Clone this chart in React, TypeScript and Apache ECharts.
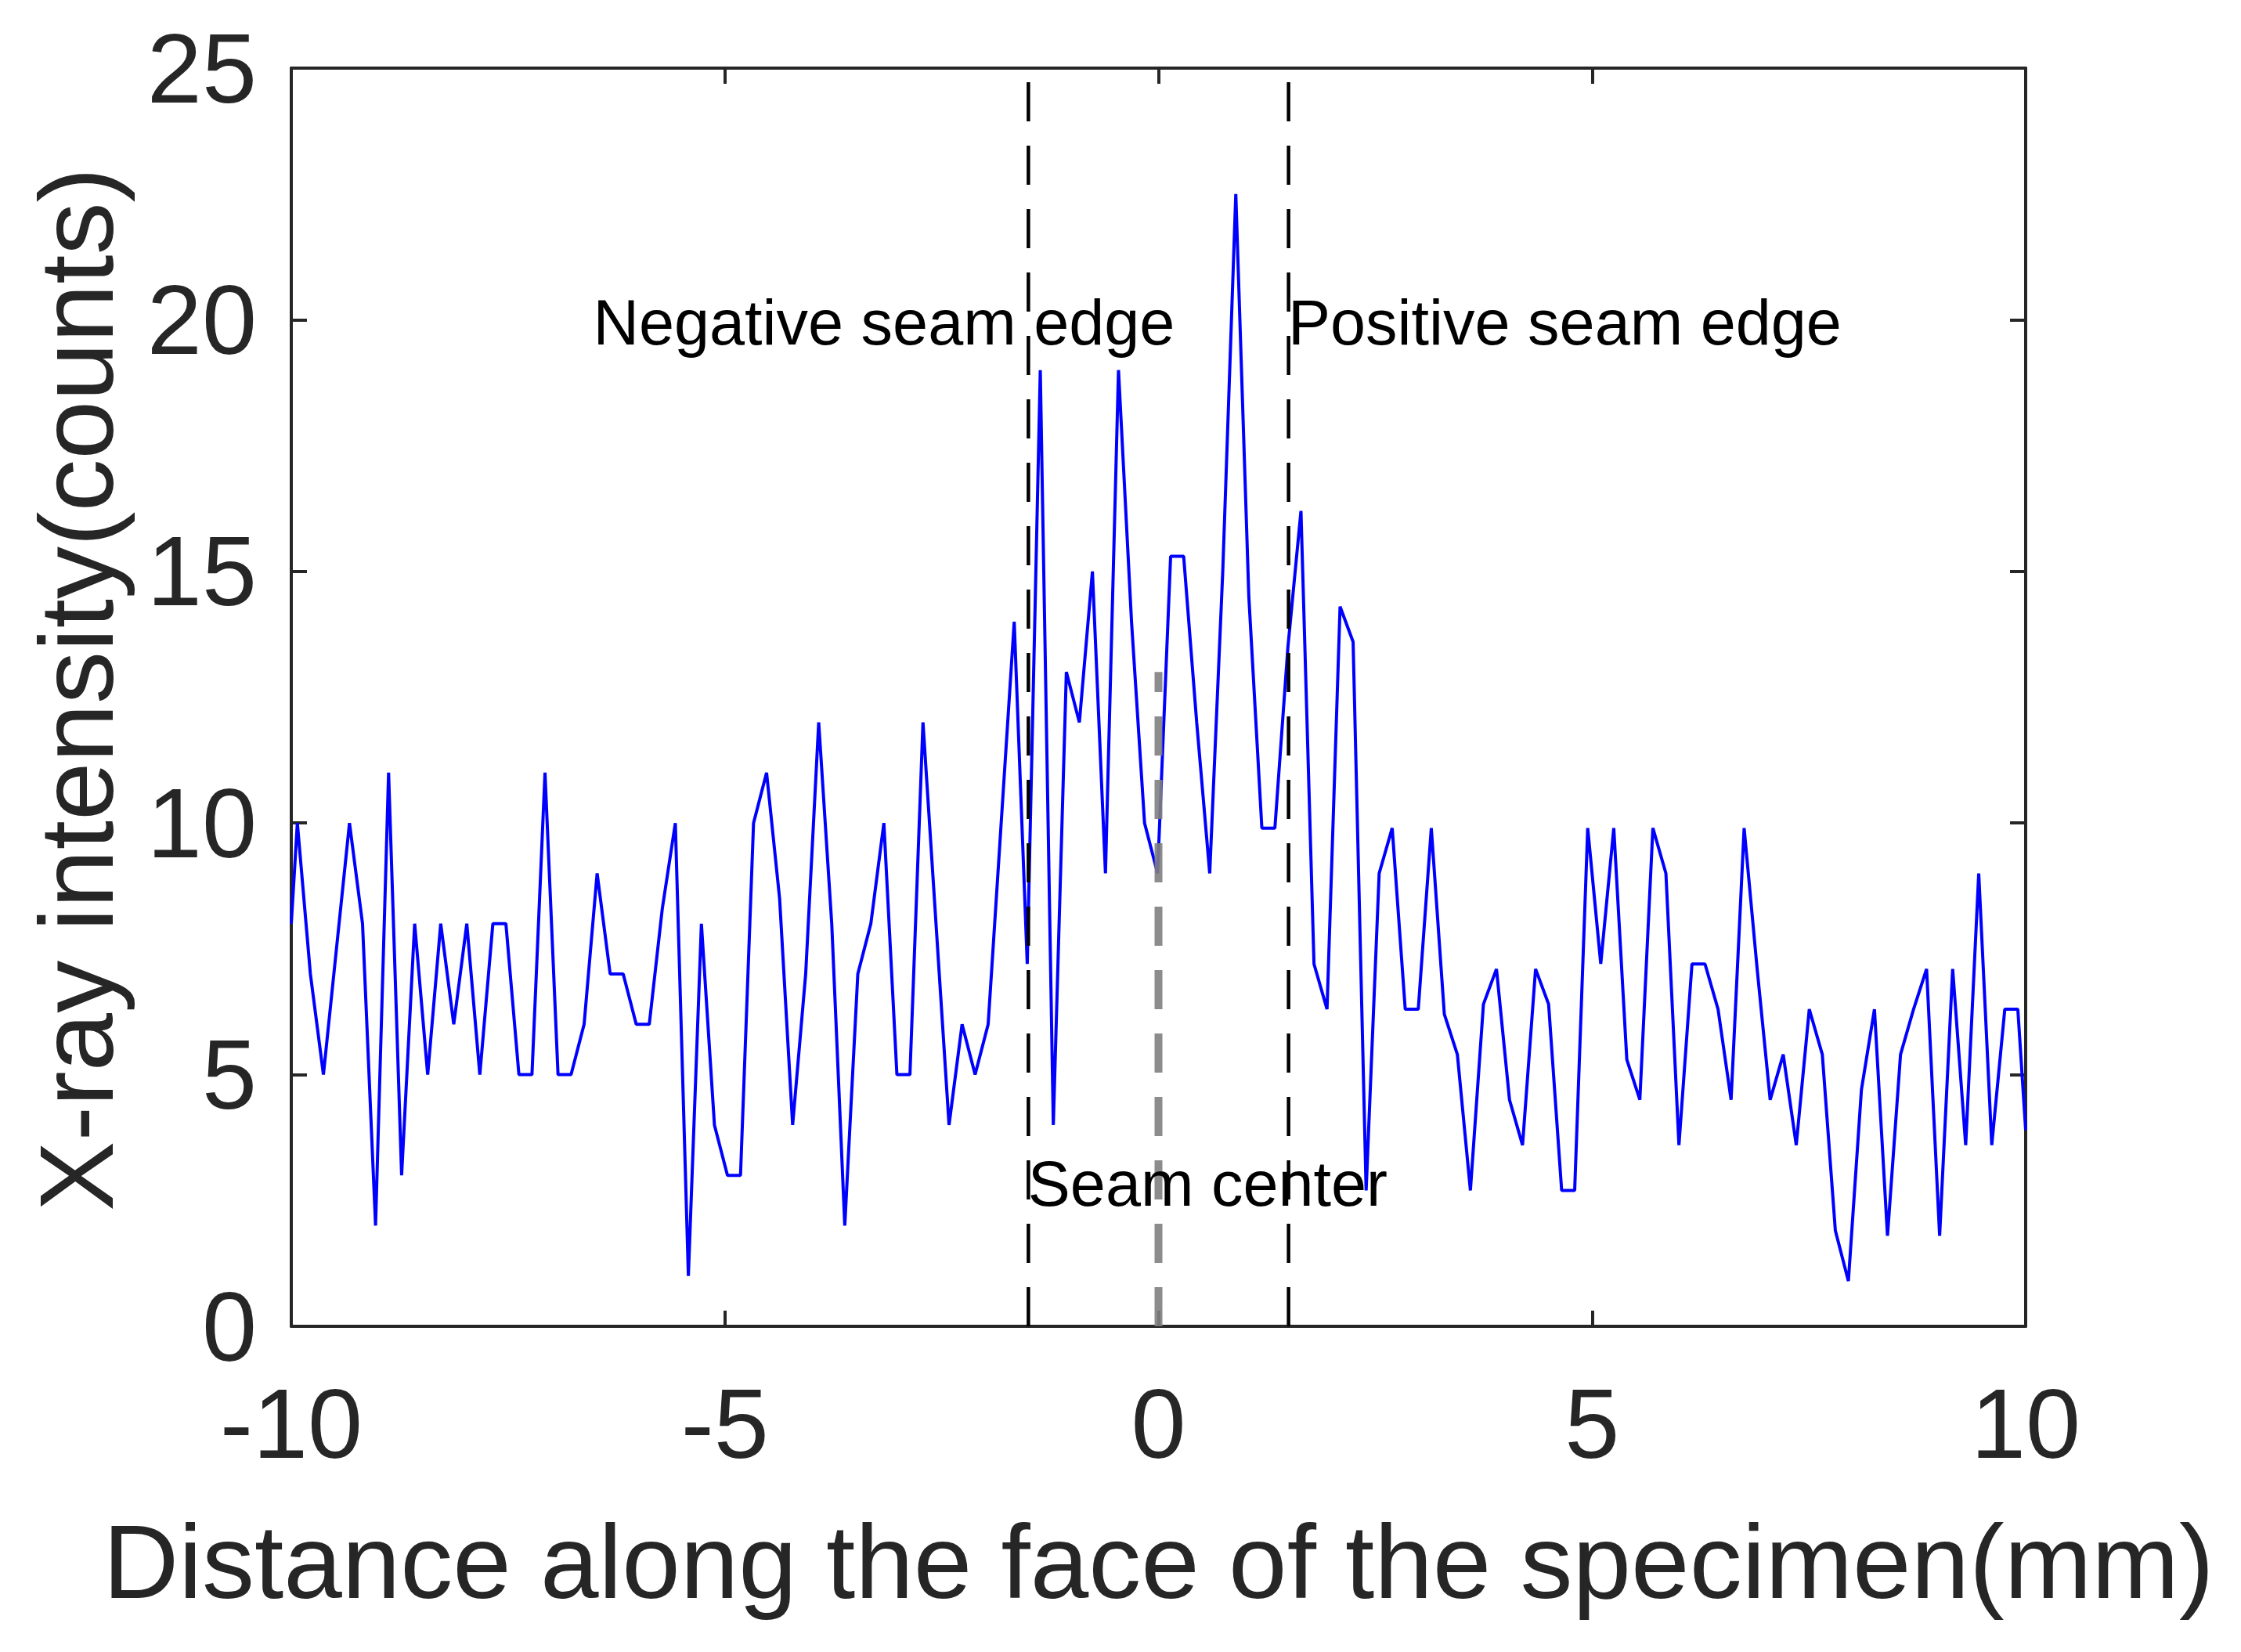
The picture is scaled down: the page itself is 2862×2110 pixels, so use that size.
import React, { useEffect, useRef } from 'react';
import * as echarts from 'echarts';

// X-ray intensity profile (counts), sampled along the specimen face
const intensity = [
  10, 7, 5, 7.5, 10, 8, 2, 11, 3, 8,
  5, 8, 6, 8, 5, 8, 8, 5, 5, 11,
  5, 5, 6, 9, 7, 7, 6, 6, 8.3, 10,
  1, 8, 4, 3, 3, 10, 11, 8.5, 4, 7,
  12, 8, 2, 7, 8, 10, 5, 5, 12, 8,
  4, 6, 5, 6, 10, 14, 7.2, 19, 4, 13,
  12, 15, 9, 19, 14, 10, 9, 15.3, 15.3, 12,
  9, 15, 22.5, 14.5, 9.9, 9.9, 13.5, 16.2, 7.2, 6.3,
  14.3, 13.6, 2.7, 9.0, 9.9, 6.3, 6.3, 9.9, 6.2, 5.4,
  2.7, 6.4, 7.1, 4.5, 3.6, 7.1, 6.4, 2.7, 2.7, 9.9,
  7.2, 9.9, 5.3, 4.5, 9.9, 9.0, 3.6, 7.2, 7.2, 6.3,
  4.5, 9.9, 7.1, 4.5, 5.4, 3.6, 6.3, 5.4, 1.9, 0.9,
  4.7, 6.3, 1.8, 5.4, 6.3, 7.1, 1.8, 7.1, 3.6, 9.0,
  3.6, 6.3, 6.3,
];
const xStart = -9.93; // mm, first sample
const xStep = 0.1503; // mm between samples
const leftEdgePoint = [-10, 8];
const rightEdgePoint = [10, 3.9];

const xTicks = [-10, -5, 0, 5, 10];
const yTicks = [0, 5, 10, 15, 20, 25];

const seamEdges = [-1.5, 1.5];
const seamCenterX = 0;
const seamCenterTop = 13;

const annotationTexts = ['Negative seam edge', 'Positive seam edge', 'Seam center'];
const annotationX = [-6.52, 1.494, -1.505];
const annotationY = [19.51, 19.51, 2.4];

const FONT = '"Liberation Sans", Arial, Helvetica, sans-serif';
const AXIS_COLOR = '#262626';

export default function App() {
  const ref = useRef<HTMLDivElement>(null);

  useEffect(() => {
    if (!ref.current) return;
    const chart = echarts.init(ref.current, undefined, { renderer: 'svg' });

    const lineData: number[][] = [leftEdgePoint];
    intensity.forEach((v, i) => lineData.push([xStart + i * xStep, v]));
    lineData.push(rightEdgePoint);

    const axisLine = { show: true, onZero: false, lineStyle: { color: AXIS_COLOR, width: 4 } };
    const axisTick = { show: true, inside: true, length: 20, lineStyle: { color: AXIS_COLOR, width: 4 } };
    const xMin = xTicks[0];
    const xMax = xTicks[xTicks.length - 1];
    const yMin = yTicks[0];
    const yMax = yTicks[yTicks.length - 1];
    const xInterval = xTicks[1] - xTicks[0];
    const yInterval = yTicks[1] - yTicks[0];

    const option: any = {
      animation: false,
      backgroundColor: '#ffffff',
      grid: { left: 372, top: 87, width: 2215, height: 1607, containLabel: false },
      xAxis: [
        {
          type: 'value', position: 'bottom', min: xMin, max: xMax, interval: xInterval,
          axisLine, axisTick, splitLine: { show: false },
          axisLabel: { fontSize: 126, lineHeight: 126, margin: 61, color: AXIS_COLOR, fontFamily: FONT },
          name: 'Distance along the face of the specimen(mm)',
          nameLocation: 'middle', nameGap: 233,
          nameTextStyle: { fontSize: 134, lineHeight: 134, color: AXIS_COLOR, fontFamily: FONT },
        },
        {
          type: 'value', position: 'top', min: xMin, max: xMax, interval: xInterval,
          axisLine, axisTick, splitLine: { show: false }, axisLabel: { show: false },
        },
      ],
      yAxis: [
        {
          type: 'value', position: 'left', min: yMin, max: yMax, interval: yInterval,
          axisLine, axisTick, splitLine: { show: false },
          axisLabel: { fontSize: 126, lineHeight: 126, margin: 44, color: AXIS_COLOR, fontFamily: FONT, padding: [12, 0, 0, 0] },
          name: 'X-ray intensity(counts)',
          nameLocation: 'middle', nameGap: 208, nameRotate: 90,
          nameTextStyle: { fontSize: 134, lineHeight: 134, color: AXIS_COLOR, fontFamily: FONT, padding: [0, 0, 0, 20] },
        },
        {
          type: 'value', position: 'right', min: yMin, max: yMax, interval: yInterval,
          axisLine, axisTick, splitLine: { show: false }, axisLabel: { show: false },
        },
      ],
      series: [
        {
          name: 'X-ray intensity', type: 'line', data: lineData, showSymbol: false, symbol: 'none',
          lineStyle: { color: '#0000ff', width: 4 }, z: 3, silent: true,
        },
        ...seamEdges.map((x) => ({
          name: 'seam edge', type: 'line', data: [[x, yMin], [x, yMax]], symbol: 'none', showSymbol: false,
          lineStyle: { color: '#000000', width: 4.5, type: [50, 31] }, z: 4, silent: true,
        })),
        {
          name: 'seam center', type: 'line', data: [[seamCenterX, yMin], [seamCenterX, seamCenterTop]],
          symbol: 'none', showSymbol: false,
          lineStyle: { color: '#808080', width: 10, type: [50, 31], opacity: 0.9 }, z: 4, silent: true,
        },
      ],
    };
    chart.setOption(option);

    const fs = 81;
    const graphics = annotationTexts.map((t, i) => {
      const p = chart.convertToPixel({ xAxisIndex: 0, yAxisIndex: 0 }, [annotationX[i], annotationY[i]]) as number[];
      return {
        type: 'text', x: p[0], y: p[1] - 0.3465 * fs, z: 10, silent: true,
        style: { text: t, fill: '#000000', font: `${fs}px ${FONT}`, align: 'left', verticalAlign: 'middle' },
      };
    });
    chart.setOption({ graphic: graphics });

    return () => chart.dispose();
  }, []);

  return (
    <div
      ref={ref}
      style={{ position: 'absolute', left: 0, top: 0, width: 2862, height: 2110, background: '#ffffff' }}
    />
  );
}
